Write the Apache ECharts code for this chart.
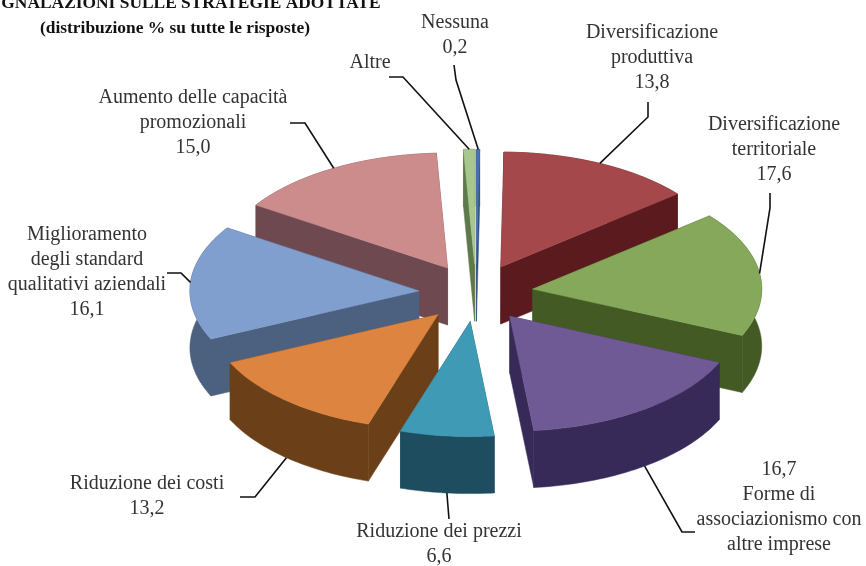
<!DOCTYPE html>
<html>
<head>
<meta charset="utf-8">
<title>Strategie adottate</title>
<style>
    html, body { margin: 0; padding: 0; background: #fff; }
    #main { width: 866px; height: 566px; }
</style>
<script src="https://cdn.jsdelivr.net/npm/echarts@6/dist/echarts.min.js"></script>
</head>
<body>
<div id="main"></div>
<script>
// dati
var categories = ['Diversificazione produttiva', 'Diversificazione territoriale', 'Forme di associazionismo con altre imprese',
    'Riduzione dei prezzi', 'Riduzione dei costi', 'Miglioramento degli standard qualitativi aziendali',
    'Aumento delle capacità promozionali', 'Altre', 'Nessuna'];
var values = [13.8, 17.6, 16.7, 6.6, 13.2, 16.1, 15.0, 0.8, 0.2];
var titleLines = ['GNALAZIONI SULLE STRATEGIE ADOTTATE', '(distribuzione % su tutte le risposte)'];

var topColors = ['#a5484b', '#85a85b', '#705a96', '#3f9ab5', '#dc8440', '#809fcf', '#cc8c8c', '#a8c78e', '#4472b0'];
var sideColors = ['#5a1a1e', '#435a25', '#382a58', '#1f4d60', '#6b4019', '#4c617f', '#6e4a50', '#5f7a4a', '#2f4f80'];

// geometria della torta
var cx = 476, cy = 293, rx = 229, ry = 115, depth = 57, explode = 0.25;
var startAngle = 0.8 * Math.PI / 180;

// etichette: righe di testo, centro x, y della prima riga, gomito della linea guida
var labelLayout = [
    { lines: ['Diversificazione', 'produttiva', '%v'], x: 652, y: 33, elbow: [[648, 102], [648, 117]] },
    { lines: ['Diversificazione', 'territoriale', '%v'], x: 774, y: 125, elbow: [[770, 193], [770, 208]] },
    { lines: ['%v', 'Forme di', 'associazionismo con', 'altre imprese'], x: 779, y: 470, elbow: [[695, 532], [682, 532]] },
    { lines: ['Riduzione dei prezzi', '%v'], x: 439, y: 532, elbow: [[449, 519]] },
    { lines: ['Riduzione dei costi', '%v'], x: 147, y: 484, elbow: [[240, 497], [255, 497]] },
    { lines: ['Miglioramento', 'degli standard', 'qualitativi aziendali', '%v'], x: 87, y: 235, elbow: [[167, 273], [181, 273]] },
    { lines: ['Aumento delle capacità', 'promozionali', '%v'], x: 193, y: 98, elbow: [[290, 123], [305, 123]] },
    { lines: ['Altre'], x: 370, y: 63, elbow: [[389, 77], [403, 77]] },
    { lines: ['Nessuna', '%v'], x: 455, y: 23, elbow: [[454, 65], [456, 80]] }
];

var total = values.reduce(function (a, b) { return a + b; }, 0);
var slices = [];
var cum = 0;
for (var i = 0; i < values.length; i++) {
    var a0 = echarts.number.linearMap(cum, [0, total], [startAngle, startAngle + 2 * Math.PI]);
    cum += values[i];
    var a1 = echarts.number.linearMap(cum, [0, total], [startAngle, startAngle + 2 * Math.PI]);
    var mid = (a0 + a1) / 2;
    slices.push({
        a0: a0,
        a1: a1,
        mid: mid,
        ax: cx + explode * rx * Math.sin(mid),
        ay: cy - explode * ry * Math.cos(mid)
    });
}

function rimPoint(s, a, dz) {
    return [s.ax + rx * Math.sin(a), s.ay - ry * Math.cos(a) + dz];
}

function arcPoints(s, dz) {
    var pts = [];
    var n = Math.max(2, Math.ceil((s.a1 - s.a0) / 0.02));
    for (var k = 0; k <= n; k++) {
        pts.push(rimPoint(s, s.a0 + (s.a1 - s.a0) * k / n, dz));
    }
    return pts;
}

// dal fondo verso il davanti
var drawOrder = values.map(function (v, idx) { return idx; }).sort(function (p, q) {
    return slices[p].ay - slices[q].ay;
});

function renderSlice(params, api) {
    var idx = api.value(0);
    var s = slices[idx];
    var top = arcPoints(s, 0);
    var low = arcPoints(s, depth).reverse();
    var apex = [s.ax, s.ay];
    var apexLow = [s.ax, s.ay + depth];
    var side = { fill: sideColors[idx], stroke: sideColors[idx], lineWidth: 0.5 };
    return {
        type: 'group',
        children: [
            { type: 'polygon', shape: { points: [apex, top[0], low[low.length - 1], apexLow] }, style: side },
            { type: 'polygon', shape: { points: [apex, top[top.length - 1], low[0], apexLow] }, style: side },
            { type: 'polygon', shape: { points: top.concat(low) }, style: side },
            {
                type: 'polygon',
                shape: { points: [apex].concat(top) },
                style: { fill: topColors[idx], stroke: topColors[idx], lineWidth: 0.5 }
            }
        ]
    };
}

function renderLabel(params, api) {
    var idx = api.value(0);
    var s = slices[idx];
    var l = labelLayout[idx];
    var front = Math.cos(s.mid) < -0.1;
    var anchor = rimPoint(s, s.mid, front ? depth : 0);
    var children = [{
        type: 'polyline',
        shape: { points: l.elbow.concat([anchor]) },
        style: { stroke: '#111', lineWidth: 1.6, fill: null }
    }];
    l.lines.forEach(function (line, n) {
        children.push({
            type: 'text',
            style: {
                text: line === '%v' ? values[idx].toFixed(1).replace('.', ',') : line,
                x: l.x,
                y: l.y + n * 25,
                align: 'center',
                verticalAlign: 'middle',
                fill: '#333',
                font: '20px "Liberation Serif"'
            }
        });
    });
    return { type: 'group', children: children };
}

var myChart = echarts.init(document.getElementById('main'), null, { renderer: 'canvas' });

var option = {
    animation: false,
    backgroundColor: '#fff',
    graphic: titleLines.map(function (t, n) {
        return {
            type: 'text',
            x: n === 0 ? 191 : 175,
            y: n === 0 ? 4 : 29,
            style: {
                text: t,
                align: 'center',
                verticalAlign: 'middle',
                fill: '#111',
                font: 'bold 17.4px "Liberation Serif"'
            }
        };
    }),
    series: [
        {
            name: 'Strategie',
            type: 'custom',
            coordinateSystem: 'none',
            renderItem: renderSlice,
            silent: true,
            data: drawOrder.map(function (idx) { return { name: categories[idx], value: [idx, values[idx]] }; })
        },
        {
            name: 'Etichette',
            type: 'custom',
            coordinateSystem: 'none',
            renderItem: renderLabel,
            silent: true,
            z: 5,
            data: categories.map(function (c, idx) { return { name: c, value: [idx] }; })
        }
    ]
};

myChart.setOption(option);
</script>
</body>
</html>
